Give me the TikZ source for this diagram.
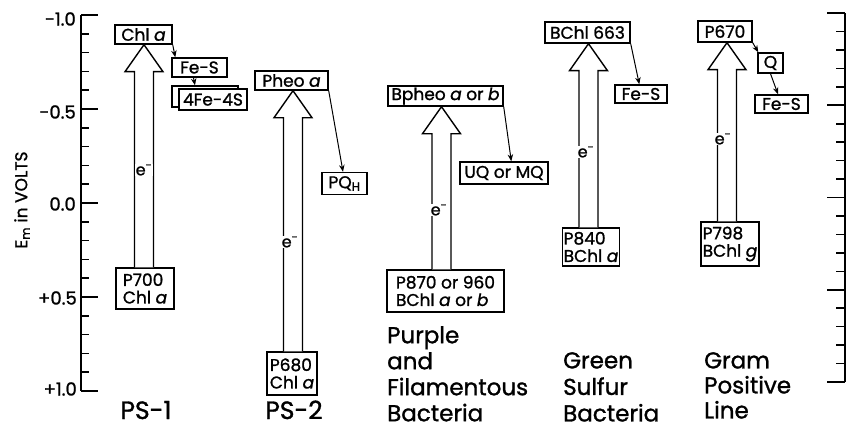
\documentclass[tikz,border=0pt]{standalone}
\usepackage{fontspec}
\setmainfont{Poppins}[FakeBold=1.2]
\usetikzlibrary{arrows.meta,calc}
\newcommand\blockarrow[3]{%
  \draw[blk] let \p1=(#2.north), \p2=(#1.south), \n1={\x2+(#3)*1pt} in
    (\n1-9.5pt,\y1) -- (\n1-9.5pt,\y2-27pt) -- (\n1-19pt,\y2-27pt) -- (\n1,\y2)
    -- (\n1+19pt,\y2-27pt) -- (\n1+9.5pt,\y2-27pt) -- (\n1+9.5pt,\y1);}
\begin{document}
\begin{tikzpicture}[x=1pt,y=-1pt,
  bx/.style={draw, line width=1.4pt, fill=white, inner sep=1pt, font=\fontsize{17}{17.5}\selectfont},
  bx2/.style={bx, align=left},
  blk/.style={draw, line width=1.4pt, fill=white, line join=miter},
  con/.style={line width=1pt, -{Stealth[length=7pt,width=5.5pt]}},
  lab/.style={align=left, anchor=north west, inner sep=0pt},
  pslab/.style={font=\fontsize{25}{27}\selectfont, inner sep=0pt, anchor=base},
  el/.style={font=\fontsize{16}{17}\selectfont, fill=white, inner sep=0.3pt},
  ax/.style={line width=1.6pt},
  axl/.style={font=\fontsize{18}{19}\selectfont, anchor=east, inner sep=0pt}
]
\useasboundingbox (0,0) rectangle (846,428);

% left axis
\draw[ax] (81,15) -- (81,391);
\foreach \k in {0,...,20}{
  \pgfmathsetmacro\yy{15+18.8*\k}
  \pgfmathtruncatemacro\m{mod(\k,5)}
  \ifnum\m=0 \draw[ax] (81,\yy) -- (98,\yy); \else \draw[ax] (81,\yy) -- (89,\yy); \fi
}
\node[axl] (l1) at (76,19) {-1.0};
\node[axl] (l2) at (76,112) {-0.5};
\node[axl] (l3) at (76,204) {0.0};
\node[axl] (l4) at (77,298) {+0.5};
\node[axl] (l5) at (77,389) {+1.0};
\node[font=\fontsize{17}{18}\selectfont, rotate=90] (em) at (22,200) {E\textsubscript{m} in VOLTS};

% right axis
\draw[ax] (845,13) -- (845,382);
\foreach \k in {0,...,20}{
  \pgfmathsetmacro\yy{13+18.45*\k}
  \pgfmathtruncatemacro\m{mod(\k,5)}
  \ifnum\m=0 \draw[ax] (845,\yy) -- (827,\yy); \else \draw[ax] (845,\yy) -- (836,\yy); \fi
}

% PS-1
\node[bx, minimum width=57pt, minimum height=19pt] (chla) at (143.5,34.5) {Chl \textit{a}};
\node[bx, minimum width=55pt, minimum height=19pt] (fes1) at (199.5,67.5) {Fe-S};
\draw[line width=1.2pt] (179,107) -- (172,107) -- (172,86) -- (238,86) -- (238,89);
\node[bx, minimum width=68pt, minimum height=21pt] (fe4s) at (213,99.5) {4Fe-4S};
\node[bx2, minimum width=58pt, minimum height=41pt] (p700) at (145,288.5) {P700\\Chl \textit{a}};
\blockarrow{chla}{p700}{0.5}
\node[el] (e1) at (144,170) {e\textsuperscript{-}};
\draw[con] (chla.south east) -- ($(fes1.north west)+(4,0)$);
\draw[con] ($(fes1.south)+(-6,0)$) -- ($(fe4s.north)+(-18,-3)$);
\node[pslab] (t1) at (146,419) {PS-1};

% PS-2
\node[bx, minimum width=73pt, minimum height=19pt] (pheo) at (291.5,80.5) {Pheo \textit{a}};
\node[bx, minimum width=45pt, minimum height=22pt] (pqh) at (344.5,183.5) {PQ\textsubscript{H}};
\node[bx2, minimum width=50pt, minimum height=43pt] (p680) at (292,373.5) {P680\\Chl \textit{a}};
\blockarrow{pheo}{p680}{1.5}
\node[el] (e2) at (290,242) {e\textsuperscript{-}};
\draw[con] (pheo.south east) -- ($(pqh.north)+(-1.5,0)$);
\node[pslab] (t2) at (294,419) {PS-2};

% Purple
\node[bx, minimum width=115pt, minimum height=20pt] (bpheo) at (445.5,96) {Bpheo \textit{a} or \textit{b}};
\node[bx, minimum width=88pt, minimum height=22pt] (uq) at (504,173) {UQ or MQ};
\node[bx2, minimum width=117pt, minimum height=42pt] (p870) at (445.5,291) {P870 or 960\\BChl \textit{a} or \textit{b}};
\blockarrow{bpheo}{p870}{-4}
\node[el] (e3) at (439,210) {e\textsuperscript{-}};
\draw[con] (bpheo.south east) -- ($(uq.north west)+(52,0)$);
\node[lab, font=\fontsize{23}{26}\selectfont] (t3) at (387,326) {Purple\\and\\Filamentous\\Bacteria};

% Green sulfur
\node[bx, minimum width=85pt, minimum height=21pt] (bchl) at (587.5,32.5) {BChl 663};
\node[bx, minimum width=52pt, minimum height=18pt] (fes2) at (641,94) {Fe-S};
\node[bx2, minimum width=56pt, minimum height=38pt] (p840) at (591,247) {P840\\BChl \textit{a}};
\blockarrow{bchl}{p840}{1}
\node[el] (e4) at (586,152) {e\textsuperscript{-}};
\draw[con] (bchl.south east) -- ($(fes2.north west)+(25,0)$);
\node[lab, font=\fontsize{23}{26.5}\selectfont] (t4) at (563,352) {Green\\Sulfur\\Bacteria};

% Gram positive
\node[bx, minimum width=54pt, minimum height=21pt] (p670) at (725,31.5) {P670};
\node[bx, minimum width=25pt, minimum height=20pt] (q) at (770.5,63) {Q};
\node[bx, minimum width=53pt, minimum height=18pt] (fes3) at (781.5,104) {Fe-S};
\node[bx2, minimum width=58pt, minimum height=44pt] (p798) at (730,244) {P798\\BChl \textit{g}};
\blockarrow{p670}{p798}{2}
\node[el] (e5) at (723,139) {e\textsuperscript{-}};
\draw[con] (p670.south east) -- ($(q.north west)+(1,0)$);
\draw[con] (q.south) -- ($(fes3.north)+(-3.5,0)$);
\node[lab, font=\fontsize{23}{25}\selectfont] (t5) at (704,352) {Gram\\Positive\\Line};
\end{tikzpicture}
\end{document}
